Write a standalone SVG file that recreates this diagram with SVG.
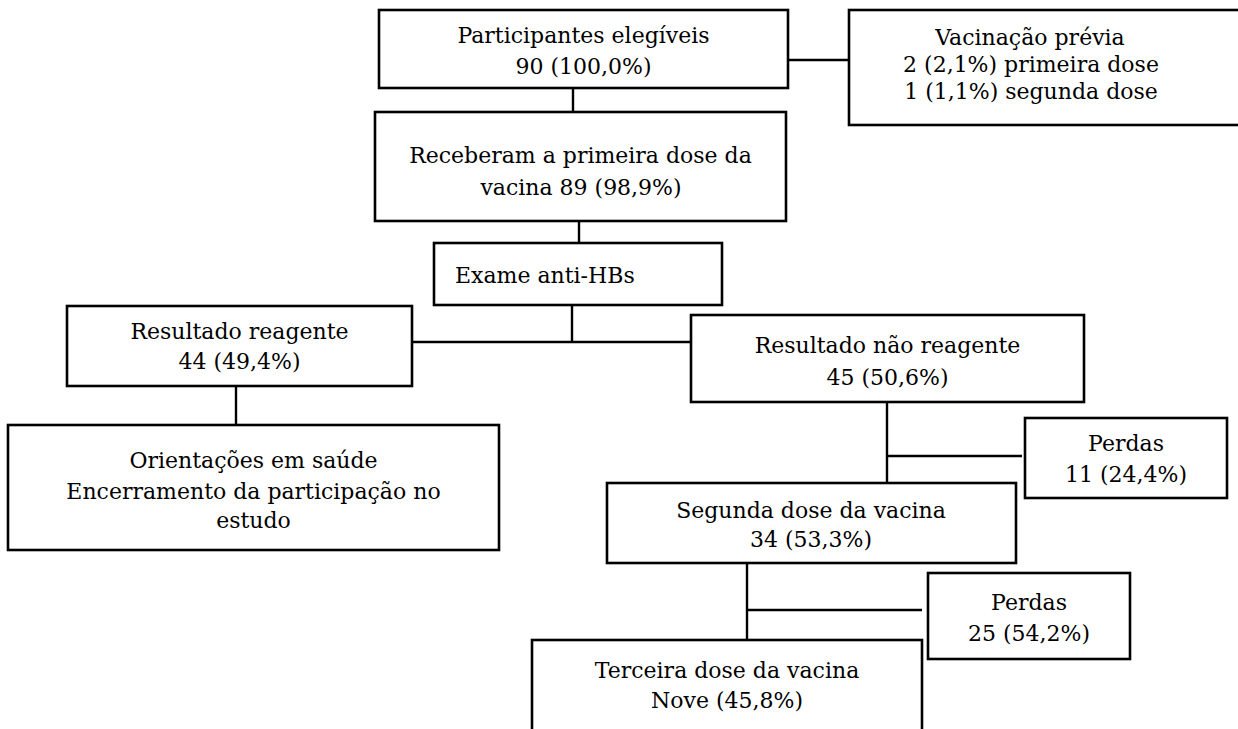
<svg xmlns="http://www.w3.org/2000/svg" width="1238" height="729" viewBox="0 0 1238 729">
<style>
.box{fill:#fff;stroke:#000;stroke-width:2.6}
.ln{stroke:#000;stroke-width:2.4;fill:none}
text{font-family:"DejaVu Serif","Liberation Serif",serif;font-size:22px;fill:#000}
.c{text-anchor:middle}
</style>
<rect width="1238" height="729" fill="#fff"/>
<g id="connectors">
<line class="ln" x1="788" y1="60" x2="849" y2="60"/>
<line class="ln" x1="573" y1="88" x2="573" y2="112"/>
<line class="ln" x1="579" y1="221" x2="579" y2="243"/>
<line class="ln" x1="572" y1="305" x2="572" y2="342"/>
<line class="ln" x1="412" y1="342" x2="691" y2="342"/>
<line class="ln" x1="236" y1="386" x2="236" y2="425"/>
<line class="ln" x1="887" y1="402" x2="887" y2="483"/>
<line class="ln" x1="887" y1="456" x2="1022" y2="456"/>
<line class="ln" x1="747" y1="563" x2="747" y2="640"/>
<line class="ln" x1="747" y1="610" x2="922" y2="610"/>
</g>
<g id="n_elegiveis">
<rect class="box" x="379" y="10" width="409" height="78"/>
<text class="c" x="583.5" y="43">Participantes elegíveis</text>
<text class="c" x="583.5" y="74">90 (100,0%)</text>
</g>
<g id="n_previa">
<rect class="box" x="849" y="10" width="400" height="115"/>
<text class="c" x="1030" y="45">Vacinação prévia</text>
<text class="c" x="1031" y="72">2 (2,1%) primeira dose</text>
<text class="c" x="1031" y="99">1 (1,1%) segunda dose</text>
</g>
<g id="n_primeira">
<rect class="box" x="375" y="112" width="411" height="109"/>
<text class="c" x="580.5" y="163">Receberam a primeira dose da</text>
<text class="c" x="581" y="195">vacina 89 (98,9%)</text>
</g>
<g id="n_exame">
<rect class="box" x="434" y="243" width="288" height="62"/>
<text x="455" y="283">Exame anti-HBs</text>
</g>
<g id="n_reagente">
<rect class="box" x="67" y="306" width="345" height="80"/>
<text class="c" x="239.5" y="339">Resultado reagente</text>
<text class="c" x="239.5" y="369">44 (49,4%)</text>
</g>
<g id="n_orientacoes">
<rect class="box" x="8" y="425" width="491" height="125"/>
<text class="c" x="253.5" y="468">Orientações em saúde</text>
<text class="c" x="253.5" y="499">Encerramento da participação no</text>
<text class="c" x="253.5" y="528">estudo</text>
</g>
<g id="n_nao_reagente">
<rect class="box" x="691" y="315" width="393" height="87"/>
<text class="c" x="887.5" y="353">Resultado não reagente</text>
<text class="c" x="887.5" y="385">45 (50,6%)</text>
</g>
<g id="n_perdas1">
<rect class="box" x="1025" y="418" width="202" height="80"/>
<text class="c" x="1126" y="451">Perdas</text>
<text class="c" x="1126" y="482">11 (24,4%)</text>
</g>
<g id="n_segunda">
<rect class="box" x="607" y="483" width="409" height="80"/>
<text class="c" x="811" y="518">Segunda dose da vacina</text>
<text class="c" x="811" y="547">34 (53,3%)</text>
</g>
<g id="n_perdas2">
<rect class="box" x="928" y="573" width="202" height="86"/>
<text class="c" x="1029" y="610">Perdas</text>
<text class="c" x="1029" y="641">25 (54,2%)</text>
</g>
<g id="n_terceira">
<rect class="box" x="532" y="640" width="390" height="100"/>
<text class="c" x="727" y="678">Terceira dose da vacina</text>
<text class="c" x="727" y="708">Nove (45,8%)</text>
</g>
</svg>
